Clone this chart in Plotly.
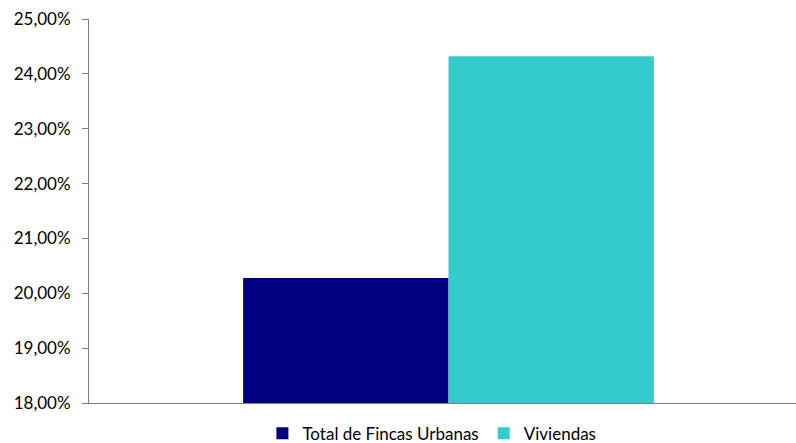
import plotly.graph_objects as go

categories = [""]
series_names = ["Total de Fincas Urbanas", "Viviendas"]
values_total = [0.2028]
values_viviendas = [0.2432]
colors = ["#000080", "#33CCCC"]

fig = go.Figure()
fig.add_trace(go.Bar(x=categories, y=values_total, name=series_names[0], marker_color=colors[0], marker_line_width=0))
fig.add_trace(go.Bar(x=categories, y=values_viviendas, name=series_names[1], marker_color=colors[1], marker_line_width=0))

fig.update_layout(
    width=796, height=443,
    margin=dict(l=89, r=0, t=19, b=40, autoexpand=False),
    barmode="group", bargap=0.419, bargroupgap=0,
    plot_bgcolor="white", paper_bgcolor="white",
    separators=",.",
    font=dict(family="Lato, Open Sans, sans-serif", size=17, color="#000000"),
    showlegend=True,
    legend=dict(orientation="h", x=0.485, xanchor="center", y=-0.033, yanchor="top",
                font=dict(size=17), itemwidth=30, tracegroupgap=0),
)
fig.update_xaxes(type="category", range=[-0.5085, 0.4915], showticklabels=False,
                 showline=True, linecolor="#808080", linewidth=1, ticks="", showgrid=False)
fig.update_yaxes(range=[0.18, 0.25], dtick=0.01, tickformat=".2%", showgrid=False,
                 showline=True, linecolor="#808080", linewidth=1, ticks="outside",
                 ticklen=6, tickcolor="#808080", zeroline=False, ticklabelstandoff=8)

fig.write_html("out.html", config={"displayModeBar": False},
               post_script="document.body.style.margin='0';document.body.style.overflow='hidden';")
